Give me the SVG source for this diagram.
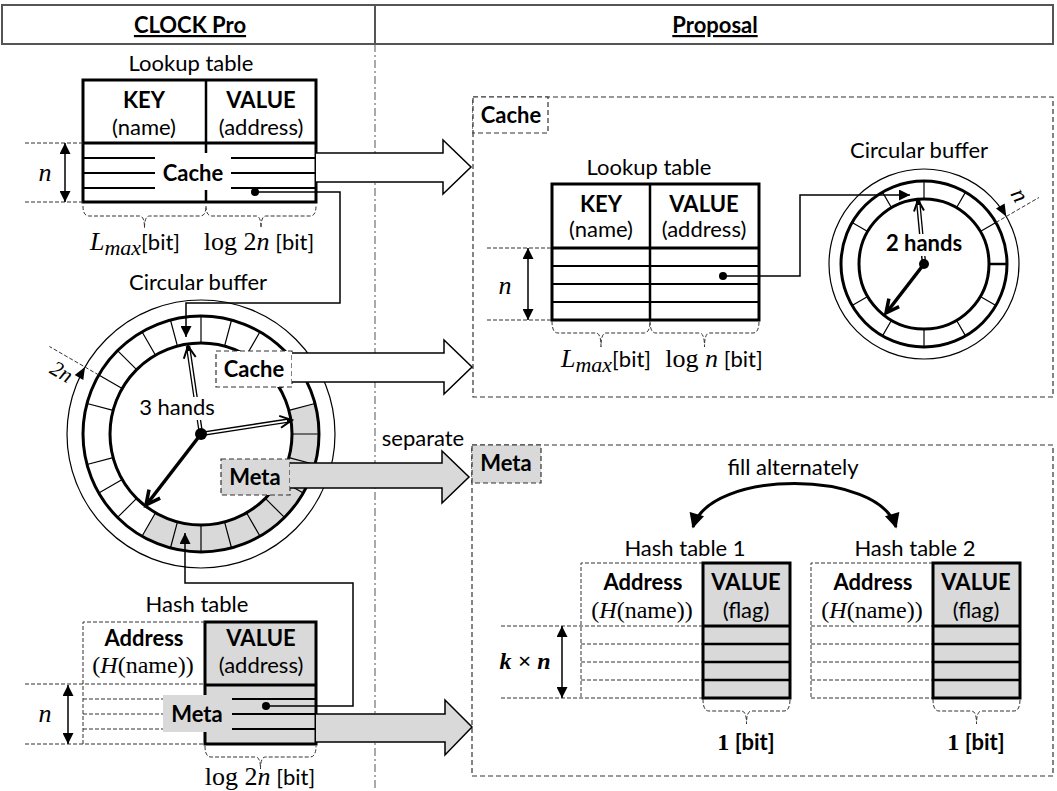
<svg xmlns="http://www.w3.org/2000/svg" width="1057" height="791" viewBox="0 0 1057 791">
<style>
text{font-family:Lato,"Open Sans",sans-serif;font-size:22px;fill:#000;text-anchor:middle}
.b{font-weight:bold}
.m{font-family:"Liberation Serif","DejaVu Serif",serif;font-size:26px}
.i{font-style:italic}
.k{stroke:#000;fill:none}
.tk{stroke:#000;stroke-width:3;fill:none}
.row{stroke:#000;stroke-width:2;fill:none}
.tn{stroke:#000;stroke-width:1.5;fill:none}
.ds{stroke:#333;stroke-width:1;stroke-dasharray:4 2;fill:none}
.bx{stroke:#333;stroke-width:1.2;stroke-dasharray:5 3}
.g{fill:#d9d9d9}
.w{fill:#fff}
.tick{stroke:#000;stroke-width:1.2;fill:none}
.blk{stroke:#000;stroke-width:1.5;fill:none;stroke-linejoin:miter}
</style>
<defs>
<marker id="ah" viewBox="0 0 10 10" refX="10" refY="5" markerWidth="12" markerHeight="11" markerUnits="userSpaceOnUse" orient="auto-start-reverse"><path d="M0,0L10,5L0,10z" fill="#000"/></marker>
<marker id="ah2" viewBox="0 0 10 10" refX="9" refY="5" markerWidth="16" markerHeight="15" markerUnits="userSpaceOnUse" orient="auto-start-reverse"><path d="M0,0L10,5L0,10z" fill="#000"/></marker>
</defs>
<rect width="1057" height="791" fill="#fff"/>

<g id="header">
<rect x="2" y="5" width="1051" height="39" fill="#fff" stroke="#555" stroke-width="2"/>
<line x1="375" y1="5" x2="375" y2="44" stroke="#555" stroke-width="2"/>
<text x="190" y="33" class="b" text-decoration="underline">CLOCK Pro</text>
<text x="715" y="33" class="b" text-decoration="underline">Proposal</text>
<line x1="375" y1="44" x2="375" y2="791" stroke="#555" stroke-width="1" stroke-dasharray="8 3 2 3"/>
</g>

<g id="left-lookup">
<text x="191" y="71">Lookup table</text>
<rect x="83" y="80" width="233" height="122" class="tk"/>
<line x1="83" y1="143" x2="316" y2="143" class="tk"/>
<path d="M206,80V153M206,190V202" class="k" stroke-width="2.5"/>
<path d="M83,158H155M231,158H316M83,173H155M231,173H316M83,188H155M231,188H316" class="row"/>
<text x="144" y="108" class="b">KEY</text>
<text x="144" y="135">(name)</text>
<text x="261" y="108" class="b">VALUE</text>
<text x="261" y="135">(address)</text>
<text x="193" y="181" class="b">Cache</text>
<path d="M25,143H83M25,202H83" class="ds"/>
<line x1="65" y1="143" x2="65" y2="202" class="tn" marker-start="url(#ah)" marker-end="url(#ah)"/>
<text x="45" y="181" class="m i">n</text>
<path d="M83,206Q83,216 89,216H139.5Q144.5,216 144.5,228Q144.5,216 149.5,216H200Q206,216 206,206M206,206Q206,216 212,216H256Q261,216 261,228Q261,216 266,216H310Q316,216 316,206" class="ds"/>
<text x="135" y="250"><tspan class="m i">L</tspan><tspan class="m i" style="font-size:22px" dy="5">max</tspan><tspan dy="-5">[bit]</tspan></text>
<text x="259" y="250"><tspan class="m">log 2</tspan><tspan class="m i">n</tspan><tspan>&#160;[bit]</tspan></text>
</g>

<g id="left-circle">
<text x="198" y="290">Circular buffer</text>
<circle cx="201" cy="434" r="134" class="k" stroke-width="1.2"/>
<path d="M314.98,403.46A118,118 0 0,1 142,536.19L155.5,512.81A91,91 0 0,0 288.9,410.45Z" class="g"/>
<path class="tick" d="M201,343L201,316M224.55,346.1L231.54,320.02M246.5,355.19L260,331.81M265.35,369.65L284.44,350.56M279.81,388.5L303.19,375M288.9,410.45L314.98,403.46M292,434L319,434M288.9,457.55L314.98,464.54M279.81,479.5L303.19,493M265.35,498.35L284.44,517.44M246.5,512.81L260,536.19M224.55,521.9L231.54,547.98M201,525L201,552M177.45,521.9L170.46,547.98M155.5,512.81L142,536.19M136.65,498.35L117.56,517.44M122.19,479.5L98.81,493M113.1,457.55L87.02,464.54M113.1,410.45L87.02,403.46M122.19,388.5L98.81,375M136.65,369.65L117.56,350.56M155.5,355.19L142,331.81M177.45,346.1L170.46,320.02"/>
<circle cx="201" cy="434" r="118" class="tk"/>
<circle cx="201" cy="434" r="91" class="tk"/>
<line x1="98.8" y1="375" x2="49.4" y2="346.5" class="ds"/>
<path d="M85,367L83.3,379.9L74.7,374.9Z" fill="#000"/>
<text class="m i" style="font-size:22px" transform="translate(58,378) rotate(30)">2n</text>
<line x1="201" y1="434" x2="188" y2="346" stroke="#000" stroke-width="4.5"/>
<line x1="200.4" y1="430" x2="188.7" y2="351" stroke="#fff" stroke-width="1.8"/>
<polyline points="183.8,358.7 188,346 195.7,357" class="k" stroke-width="2"/>
<line x1="201" y1="434" x2="292" y2="420" stroke="#000" stroke-width="4.5"/>
<line x1="205" y1="433.4" x2="287" y2="420.8" stroke="#fff" stroke-width="1.8"/>
<polyline points="279.2,415.9 292,420 281,427.7" class="k" stroke-width="2"/>
<line x1="201" y1="434" x2="147" y2="504" stroke="#000" stroke-width="3.5"/>
<polyline points="160.1,498.2 146,505 149,489.6" class="k" stroke-width="3.5"/>
<circle cx="201" cy="434" r="6" fill="#000"/>
<rect x="141" y="397" width="71" height="23" fill="#fff"/>
<text x="177" y="415">3 hands</text>
<rect x="216" y="351" width="76" height="36" class="w bx"/>
<text x="254" y="377" class="b">Cache</text>
<rect x="221" y="459" width="69" height="36" class="g bx"/>
<text x="255" y="485" class="b">Meta</text>
</g>

<g id="left-hash">
<text x="197" y="612">Hash table</text>
<rect x="205" y="622" width="111" height="122" class="g" stroke="#000" stroke-width="3"/>
<line x1="205" y1="685" x2="316" y2="685" class="tk"/>
<path d="M232,699H316M232,714H316M232,729H316" class="row"/>
<path d="M205,622H83V744M83,699H163M83,714H163M83,729H163M25,684H205M25,744H205" class="ds"/>
<rect x="163" y="695" width="69" height="37" class="g"/>
<text x="197" y="722" class="b">Meta</text>
<text x="144" y="646" class="b">Address</text>
<text x="143" y="673" class="m" style="font-size:24px">(<tspan class="i">H</tspan>(name))</text>
<text x="261" y="646" class="b">VALUE</text>
<text x="261" y="673">(address)</text>
<line x1="68" y1="685" x2="68" y2="744" class="tn" marker-start="url(#ah)" marker-end="url(#ah)"/>
<text x="45" y="722" class="m i">n</text>
<path d="M205,746Q205,757 211,757H255.5Q260.5,757 260.5,769Q260.5,757 265.5,757H310Q316,757 316,746" class="ds"/>
<text x="260" y="785"><tspan class="m">log 2</tspan><tspan class="m i">n</tspan><tspan>&#160;[bit]</tspan></text>
</g>

<g id="right-cache">
<rect x="473" y="97" width="580" height="300" fill="none" class="bx"/>
<rect x="473" y="97" width="75" height="36" class="w bx"/>
<text x="511" y="123" class="b">Cache</text>
</g>

<g id="right-lookup">
<text x="649" y="175">Lookup table</text>
<rect x="552" y="184" width="207" height="136" class="tk"/>
<line x1="552" y1="248" x2="759" y2="248" class="tk"/>
<line x1="650" y1="184" x2="650" y2="320" class="k" stroke-width="2.5"/>
<path d="M552,266H759M552,284H759M552,302H759" class="row"/>
<text x="601" y="212" class="b">KEY</text>
<text x="601" y="237">(name)</text>
<text x="704" y="212" class="b">VALUE</text>
<text x="704" y="237">(address)</text>
<path d="M487,248H552M487,320H552" class="ds"/>
<line x1="528" y1="248" x2="528" y2="320" class="tn" marker-start="url(#ah)" marker-end="url(#ah)"/>
<text x="505" y="294" class="m i">n</text>
<path d="M552,321Q552,333 558,333H596Q601,333 601,347Q601,333 606,333H644Q650,333 650,321M650,321Q650,333 656,333H699.5Q704.5,333 704.5,347Q704.5,333 709.5,333H753Q759,333 759,321" class="ds"/>
<text x="606" y="367"><tspan class="m i">L</tspan><tspan class="m i" style="font-size:22px" dy="5">max</tspan><tspan dy="-5">[bit]</tspan></text>
<text x="714" y="367"><tspan class="m">log </tspan><tspan class="m i">n</tspan><tspan>&#160;[bit]</tspan></text>
</g>

<g id="right-circle">
<text x="919" y="158">Circular buffer</text>
<circle cx="924" cy="264" r="95" class="k" stroke-width="1.2"/>
<path class="tick" d="M924,199L924,181M956.5,207.71L965.5,192.12M980.29,231.5L995.88,222.5M980.29,296.5L995.88,305.5M956.5,320.29L965.5,335.88M924,329L924,347M891.5,320.29L882.5,335.88M867.71,296.5L852.12,305.5M867.71,231.5L852.12,222.5M891.5,207.71L882.5,192.12"/>
<line x1="989" y1="264" x2="1007" y2="264" class="k" stroke-width="2.5"/>
<circle cx="924" cy="264" r="83" class="tk"/>
<circle cx="924" cy="264" r="65" class="tk"/>
<line x1="995.9" y1="222.5" x2="1039" y2="197.5" class="ds"/>
<path d="M1006.3,216.5L1004.6,203.6L996,208.6Z" fill="#000"/>
<text class="m i" style="font-size:24px" transform="translate(1013,199) rotate(60)">n</text>
<line x1="924" y1="264" x2="918" y2="200" stroke="#000" stroke-width="4.5"/>
<line x1="923.6" y1="259" x2="918.5" y2="205" stroke="#fff" stroke-width="1.8"/>
<polyline points="914,211.5 918,200 924,210.5" class="k" stroke-width="2"/>
<line x1="924" y1="264" x2="887" y2="312" stroke="#000" stroke-width="3.5"/>
<polyline points="899.1,306.7 886,313 888.9,298.7" class="k" stroke-width="3.5"/>
<circle cx="924" cy="264" r="5" fill="#000"/>
<rect x="886" y="234" width="76" height="22" fill="#fff"/>
<text x="924" y="251" class="b">2 hands</text>
</g>

<g id="right-meta">
<rect x="472" y="445" width="581" height="331" fill="none" class="bx"/>
<rect x="472" y="445" width="69" height="38" class="g bx"/>
<text x="506" y="471" class="b">Meta</text>
</g>

<g id="hash-table-1">
<text x="685" y="556">Hash table 1</text>
<path d="M703,563H581V698M581,644H703M581,662H703M581,680H703M501,626H703M501,698H703" class="ds"/>
<rect x="703" y="563" width="87" height="135" class="g" stroke="#000" stroke-width="3"/>
<line x1="703" y1="626" x2="790" y2="626" class="tk"/>
<path d="M703,644H790M703,662H790M703,680H790" class="k" stroke-width="2.5"/>
<text x="643" y="590" class="b">Address</text>
<text x="642" y="618" class="m" style="font-size:24px">(<tspan class="i">H</tspan>(name))</text>
<text x="746" y="590" class="b">VALUE</text>
<text x="746" y="618">(flag)</text>
<line x1="562" y1="626" x2="562" y2="698" class="tn" marker-start="url(#ah)" marker-end="url(#ah)"/>
<text x="525" y="669" class="m i b" style="font-size:24px">k × n</text>
<path d="M703,699Q703,711 709,711H741.5Q746.5,711 746.5,724Q746.5,711 751.5,711H784Q790,711 790,699" class="ds"/>
<text x="746" y="750" class="b"><tspan class="m" style="font-size:24px">1</tspan>&#160;[bit]</text>
</g>

<g id="hash-table-2" transform="translate(230,0)">
<text x="685" y="556">Hash table 2</text>
<path d="M703,563H581V698M581,644H703M581,662H703M581,680H703M581,626H703M581,698H703" class="ds"/>
<rect x="703" y="563" width="87" height="135" class="g" stroke="#000" stroke-width="3"/>
<line x1="703" y1="626" x2="790" y2="626" class="tk"/>
<path d="M703,644H790M703,662H790M703,680H790" class="k" stroke-width="2.5"/>
<text x="643" y="590" class="b">Address</text>
<text x="642" y="618" class="m" style="font-size:24px">(<tspan class="i">H</tspan>(name))</text>
<text x="746" y="590" class="b">VALUE</text>
<text x="746" y="618">(flag)</text>
<path d="M703,699Q703,711 709,711H741.5Q746.5,711 746.5,724Q746.5,711 751.5,711H784Q790,711 790,699" class="ds"/>
<text x="746" y="750" class="b"><tspan class="m" style="font-size:24px">1</tspan>&#160;[bit]</text>
</g>

<g id="connectors">
<path d="M316,153H443V140L471,167L443,194V182H316Z" fill="#fff"/>
<path d="M316,153H443V140L471,167L443,194V182H316" class="blk"/>
<path d="M292,353H444V340L472,367L444,394V382H292Z" fill="#fff"/>
<path d="M292,353H444V340L472,367L444,394V382H292" class="blk"/>
<path d="M290,463H442V451L469,477L442,503V488H290Z" class="g"/>
<path d="M290,463H442V451L469,477L442,503V488H290" class="blk"/>
<path d="M316,714H445V700L472,727L445,755V742H316Z" class="g"/>
<path d="M316,714H445V700L472,727L445,755V742H316" class="blk"/>
<text x="423" y="446">separate</text>
<circle cx="255" cy="192" r="4" fill="#000"/>
<polyline points="255,192 340,192 340,303 186,303 186,337" class="tn" marker-end="url(#ah)"/>
<circle cx="266" cy="706" r="4" fill="#000"/>
<polyline points="266,706 353,706 353,583 185,583 185,533" class="tn" marker-end="url(#ah)"/>
<circle cx="723" cy="276" r="4" fill="#000"/>
<polyline points="723,276 800,276 800,195 910,195" class="tn" marker-end="url(#ah)"/>
<path d="M693,527C710,469 879,469 896,527" class="k" stroke-width="3" marker-start="url(#ah2)" marker-end="url(#ah2)"/>
<text x="793" y="475">fill alternately</text>
</g>
</svg>
